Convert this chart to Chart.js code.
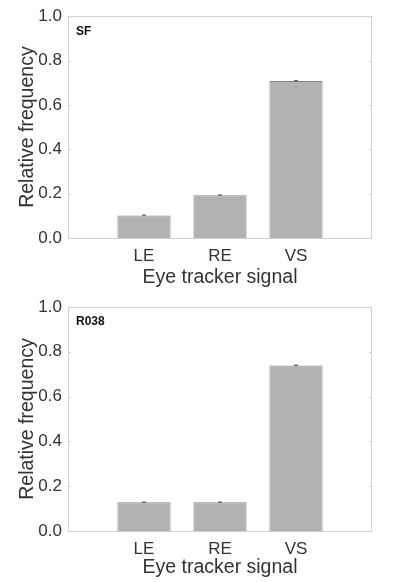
<!DOCTYPE html>
<html>
<head>
<meta charset="utf-8">
<script src="https://cdn.jsdelivr.net/npm/chart.js@4/dist/chart.umd.min.js"></script>
<style>
  html, body { margin: 0; padding: 0; background: #fff; }
  .panel { position: relative; width: 394px; }
</style>
</head>
<body>
  <div class="panel" style="height:290px"><canvas id="sfChart"></canvas></div>
  <div class="panel" style="height:292px"><canvas id="rChart"></canvas></div>
<script>
  const categories = ['LE', 'RE', 'VS'];
  const sfValues   = [0.102, 0.193, 0.708];
  const sfErrors   = [0.001, 0.001, 0.001];
  const rValues    = [0.128, 0.128, 0.739];
  const rErrors    = [0.001, 0.001, 0.001];
  const yTicks     = [0, 0.2, 0.4, 0.6, 0.8, 1.0];

  const FONT = '"Liberation Sans", Arial, Helvetica, sans-serif';
  const BOX = '#cfcfcf';

  // padded so bars sit at 1..3 on a 0..4 axis
  const labels = ['', ...categories, ''];
  const pad = arr => [null, ...arr, null];

  const frame = {
    id: 'frame',
    afterDraw(chart, args, opts) {
      const { ctx, chartArea: a, scales: { y } } = chart;
      ctx.save();
      ctx.strokeStyle = BOX;
      ctx.lineWidth = 1;
      ctx.strokeRect(a.left + 0.5, a.top + 0.5, a.right - a.left - 1, a.bottom - a.top);
      // inward ticks on both sides
      yTicks.forEach(v => {
        const py = Math.round(y.getPixelForValue(v)) + 0.5;
        ctx.beginPath();
        ctx.moveTo(a.left, py); ctx.lineTo(a.left + 3, py);
        ctx.moveTo(a.right, py); ctx.lineTo(a.right - 3, py);
        ctx.stroke();
      });
      // tiny error caps
      const meta = chart.getDatasetMeta(0);
      ctx.strokeStyle = '#444';
      opts.errors.forEach((e, i) => {
        const bar = meta.data[i + 1];
        const v = opts.values[i];
        const y1 = y.getPixelForValue(v + e), y2 = y.getPixelForValue(v - e);
        ctx.beginPath();
        ctx.moveTo(bar.x - 2, y1); ctx.lineTo(bar.x + 2, y1);
        ctx.moveTo(bar.x, y1); ctx.lineTo(bar.x, y2);
        ctx.stroke();
      });
      // panel tag
      ctx.fillStyle = '#111';
      ctx.font = 'bold 12px ' + FONT;
      ctx.textBaseline = 'middle';
      ctx.fillText(opts.tag, a.left + 8, a.top + opts.tagDy);
      ctx.restore();
    }
  };

  function makeChart(id, values, errors, tag, top, bottom, titleBottom, tagDy) {
    return new Chart(document.getElementById(id), {
      type: 'bar',
      data: {
        labels,
        datasets: [{
          data: pad(values),
          backgroundColor: '#b2b2b2',
          borderColor: '#858585',
          borderWidth: 1,
          barPercentage: 0.7,
          categoryPercentage: 1,
        }]
      },
      options: {
        responsive: true,
        maintainAspectRatio: false,
        animation: false,
        layout: { padding: { top, right: 22, left: 0, bottom: 0 } },
        plugins: {
          legend: { display: false },
          tooltip: { enabled: false },
          frame: { values, errors, tag, tagDy }
        },
        scales: {
          x: {
            offset: false,
            grid: { display: false, drawTicks: false },
            border: { display: false },
            ticks: { color: '#333', font: { family: FONT, size: 17 }, padding: 8, autoSkip: false, maxRotation: 0 },
            title: { display: true, text: 'Eye tracker signal', color: '#333',
                     font: { family: FONT, size: 19.5 }, padding: { top: 0, bottom: titleBottom } },
            afterFit: s => { s.height = bottom; }
          },
          y: {
            min: 0, max: 1,
            afterBuildTicks: s => { s.ticks = yTicks.map(v => ({ value: v })); },
            grid: { display: false, drawTicks: false },
            border: { display: false },
            ticks: { color: '#333', font: { family: FONT, size: 17 }, padding: 6,
                     callback: v => v.toFixed(1) },
            title: { display: true, text: 'Relative frequency', color: '#333',
                     font: { family: FONT, size: 19.5 }, padding: { top: 15.5, bottom: 0 } },
            afterFit: s => { s.width = 68; }
          }
        }
      },
      plugins: [frame]
    });
  }

  makeChart('sfChart', sfValues, sfErrors, 'SF', 15, 52, 0.5, 15);
  makeChart('rChart', rValues, rErrors, 'R038', 17, 51, 2.5, 15);
</script>
</body>
</html>
